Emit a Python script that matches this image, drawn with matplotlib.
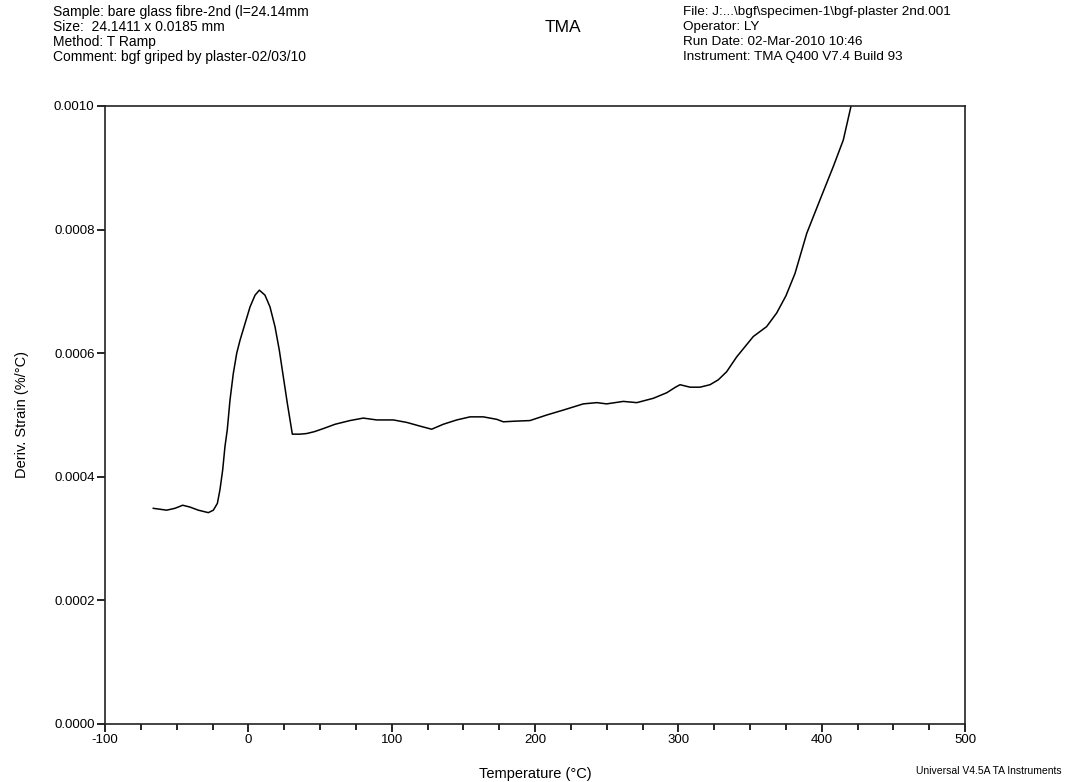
import matplotlib
matplotlib.use("Agg")
import matplotlib.pyplot as plt
from matplotlib.ticker import MultipleLocator, FormatStrFormatter

plt.rcParams['font.family'] = ['Liberation Sans', 'DejaVu Sans']
plt.rcParams['axes.unicode_minus'] = False

# Temperature (°C)
temperature = [-66.3, -57.0, -51.2, -45.8, -40.7, -34.9, -27.9, -24.4, -21.6, -19.8,
               -17.9, -16.3, -14.7, -12.8, -10.5, -8.1, -5.8, -2.3, 1.2, 4.7,
               7.7, 11.6, 15.1, 18.6, 21.6, 24.4, 27.2, 30.7, 36.0, 40.7,
               46.0, 52.3, 60.5, 70.9, 80.2, 89.6, 101.2, 110.5, 119.8, 127.9,
               136.0, 145.4, 154.7, 163.9, 173.3, 177.9, 186.0, 196.5, 208.2, 219.8,
               233.7, 243.1, 250.0, 261.6, 271.0, 282.5, 291.9, 298.0, 301.2, 308.2,
               315.1, 322.1, 327.9, 333.7, 340.7, 352.3, 361.6, 368.6, 375.1, 381.4,
               389.6, 398.8, 408.1, 415.1, 420.5]
# Deriv. Strain (%/°C)
deriv_strain = [0.000349, 0.000346, 0.000349, 0.000354, 0.000351, 0.000346, 0.000342, 0.000346, 0.000357, 0.000379,
                0.000411, 0.000449, 0.000476, 0.000524, 0.000567, 0.000600, 0.000621, 0.000648, 0.000675, 0.000694,
                0.000702, 0.000694, 0.000675, 0.000643, 0.000605, 0.000562, 0.000519, 0.000469, 0.000469, 0.000470,
                0.000473, 0.000478, 0.000485, 0.000491, 0.000495, 0.000492, 0.000492, 0.000488, 0.000482, 0.000477,
                0.000485, 0.000492, 0.000497, 0.000497, 0.000493, 0.000489, 0.000490, 0.000491, 0.000500, 0.000508,
                0.000518, 0.000520, 0.000518, 0.000522, 0.000520, 0.000527, 0.000536, 0.000545, 0.000549, 0.000545,
                0.000545, 0.000549, 0.000557, 0.000570, 0.000594, 0.000627, 0.000643, 0.000665, 0.000693, 0.000729,
                0.000794, 0.000848, 0.000902, 0.000945, 0.001000]

x_ticks = [-100, 0, 100, 200, 300, 400, 500]
y_ticks = [0.0000, 0.0002, 0.0004, 0.0006, 0.0008, 0.0010]

header_left = ["Sample: bare glass fibre-2nd (l=24.14mm",
               "Size:  24.1411 x 0.0185 mm",
               "Method: T Ramp",
               "Comment: bgf griped by plaster-02/03/10"]
header_right = ["File: J:...\\bgf\\specimen-1\\bgf-plaster 2nd.001",
                "Operator: LY",
                "Run Date: 02-Mar-2010 10:46",
                "Instrument: TMA Q400 V7.4 Build 93"]

fig = plt.figure(figsize=(10.7, 7.82), dpi=100)
ax = fig.add_axes([105/1070, 1 - 724/782, 860/1070, 618/782])

ax.plot(temperature, deriv_strain, color='black', linewidth=1.1, clip_on=True)

ax.set_xlim(-100, 500)
ax.set_ylim(0, 0.001)
ax.set_xticks(x_ticks)
ax.set_yticks(y_ticks)
ax.xaxis.set_minor_locator(MultipleLocator(25))
ax.yaxis.set_major_formatter(FormatStrFormatter('%.4f'))
ax.tick_params(axis='both', which='major', direction='out', length=6, width=1.2,
               labelsize=9.5, pad=1.5, color='black')
ax.tick_params(axis='x', which='minor', direction='out', length=4.5, width=1.2)
for s in ax.spines.values():
    s.set_linewidth(1.2)
    s.set_color('#222222')

ax.set_xlabel("Temperature (°C)", fontsize=10.5, labelpad=15)
ax.set_ylabel("Deriv. Strain (%/°C)", fontsize=10.5, labelpad=18)

y0 = 1 - 12/782
dy = 15/782
for i, t in enumerate(header_left):
    fig.text(53/1070, y0 - i*dy, t, fontsize=10, va='center', ha='left')
for i, t in enumerate(header_right):
    fig.text(683/1070, y0 - i*dy, t, fontsize=9.7, va='center', ha='left')
fig.text(563/1070, 1 - 28/782, "TMA", fontsize=12.5, va='center', ha='center')
fig.text(1062/1070, 1 - 771/782, "Universal V4.5A TA Instruments", fontsize=7.5,
         va='center', ha='right')

fig.savefig("out.png", dpi=100, facecolor='white')
